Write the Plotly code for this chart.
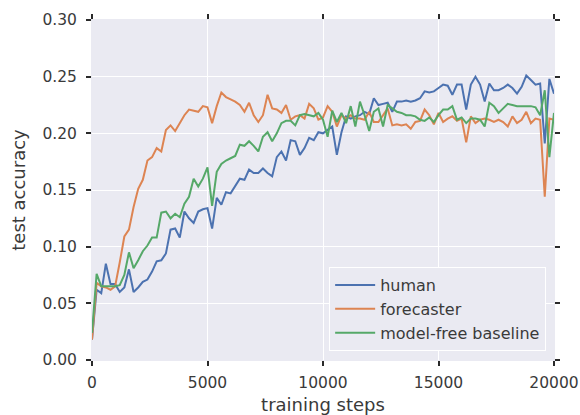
import plotly.graph_objects as go

steps = [i * 200 for i in range(101)]

human = [0.018, 0.062, 0.059, 0.085, 0.067, 0.067, 0.060, 0.064, 0.080, 0.060,
         0.064, 0.069, 0.071, 0.078, 0.087, 0.088, 0.094, 0.115, 0.116, 0.108,
         0.131, 0.125, 0.121, 0.131, 0.133, 0.134, 0.116,
         0.143, 0.137, 0.148, 0.147, 0.154, 0.160, 0.159, 0.168, 0.165, 0.165,
         0.169, 0.165, 0.162, 0.179, 0.184, 0.176, 0.194, 0.193, 0.181, 0.187,
         0.196, 0.194, 0.201, 0.200, 0.203,
         0.206, 0.181,
         0.201, 0.215, 0.213, 0.215, 0.216, 0.219, 0.217, 0.231, 0.225, 0.226,
         0.227, 0.219, 0.228, 0.228, 0.229, 0.228, 0.229, 0.231, 0.237, 0.236,
         0.237, 0.240,
         0.243, 0.242, 0.234, 0.243, 0.243, 0.221, 0.243, 0.250, 0.243, 0.228,
         0.244, 0.238, 0.238, 0.240, 0.243, 0.240, 0.235, 0.241, 0.251, 0.247,
         0.243, 0.244, 0.191, 0.248, 0.235]

forecaster = [0.018, 0.068, 0.065, 0.064, 0.062, 0.065, 0.086, 0.109, 0.115, 0.135,
              0.151, 0.159, 0.176, 0.179, 0.187, 0.184, 0.203, 0.207, 0.202, 0.209,
              0.216, 0.221, 0.220, 0.219, 0.224, 0.223, 0.209,
              0.224, 0.236, 0.232, 0.230, 0.228, 0.225, 0.219, 0.227, 0.216, 0.210,
              0.216, 0.234, 0.222, 0.221, 0.218, 0.225, 0.212, 0.215, 0.216, 0.213,
              0.226, 0.222, 0.212, 0.214, 0.224,
              0.219, 0.206,
              0.216, 0.213, 0.216, 0.213, 0.213, 0.212, 0.219, 0.210, 0.210, 0.216,
              0.222, 0.207, 0.208, 0.207, 0.208, 0.204, 0.210, 0.211, 0.221, 0.216,
              0.208, 0.218,
              0.210, 0.213, 0.215, 0.211, 0.213, 0.192, 0.215, 0.209, 0.212, 0.213,
              0.212, 0.210, 0.212, 0.210, 0.206, 0.215, 0.209, 0.212, 0.219, 0.209,
              0.213, 0.212, 0.144, 0.213, 0.212]

baseline = [0.024, 0.076, 0.065, 0.065, 0.065, 0.065, 0.066, 0.075, 0.095, 0.081,
            0.088, 0.096, 0.101, 0.108, 0.108, 0.130, 0.131, 0.125, 0.129, 0.126,
            0.138, 0.144, 0.160, 0.153, 0.160, 0.170, 0.136,
            0.166, 0.173, 0.176, 0.178, 0.180, 0.190, 0.189, 0.193, 0.189, 0.184,
            0.197, 0.201, 0.193, 0.200, 0.209, 0.211, 0.211, 0.207, 0.216, 0.217,
            0.216, 0.215, 0.218, 0.212, 0.197,
            0.220, 0.210,
            0.218, 0.209, 0.224, 0.206, 0.228, 0.216, 0.202, 0.219, 0.222, 0.206,
            0.225, 0.222, 0.219, 0.218, 0.216, 0.216, 0.215, 0.212, 0.211, 0.214,
            0.210, 0.216,
            0.221, 0.221, 0.224, 0.212, 0.214, 0.209, 0.213, 0.213, 0.212, 0.206,
            0.227, 0.224, 0.218, 0.222, 0.226, 0.225, 0.224, 0.224, 0.224, 0.224,
            0.223, 0.216, 0.238, 0.179, 0.218]

series_names = ["human", "forecaster", "model-free baseline"]
colors = ["#4C72B0", "#DD8452", "#55A868"]
x_ticks = [0, 5000, 10000, 15000, 20000]
y_ticks = [0.00, 0.05, 0.10, 0.15, 0.20, 0.25, 0.30]

fig = go.Figure()
for name, ys, c in zip(series_names, [human, forecaster, baseline], colors):
    fig.add_trace(go.Scatter(x=steps, y=ys, mode="lines", name=name,
                             line=dict(color=c, width=2)))

font = "DejaVu Sans, sans-serif"
txt = "#3a3a3a"
axis_common = dict(
    automargin=False,
    showgrid=True, gridcolor="white", gridwidth=1.3,
    zeroline=False, showline=True, linecolor="#EAEAF2", linewidth=1,
    mirror="ticks", ticks="outside", ticklen=5, tickwidth=1.5,
    tickcolor="#2a2a2a",
    tickfont=dict(family=font, size=15.5, color=txt),
)

fig.update_layout(
    width=580, height=415,
    margin=dict(l=92, r=26, t=20, b=55),
    paper_bgcolor="white", plot_bgcolor="#EAEAF2",
    font=dict(family=font, size=15.5, color=txt),
    xaxis=dict(range=[0, 20000], tickvals=x_ticks,
               ticktext=[str(v) for v in x_ticks],
               ticklabelstandoff=3,
               title=dict(text="training steps", standoff=10,
                          font=dict(family=font, size=18, color=txt)),
               **axis_common),
    yaxis=dict(range=[0, 0.30], tickvals=y_ticks,
               ticktext=[f"{v:.2f}" for v in y_ticks],
               ticklabelstandoff=6,
               title=dict(text="test accuracy", standoff=12,
                          font=dict(family=font, size=18, color=txt)),
               **axis_common),
    legend=dict(x=0.983, y=0.026, xanchor="right", yanchor="bottom",
                bgcolor="#EAEAF2", bordercolor="white", borderwidth=1,
                font=dict(family=font, size=16, color=txt),
                itemwidth=40),
    showlegend=True,
)

fig.write_html("out.html")
